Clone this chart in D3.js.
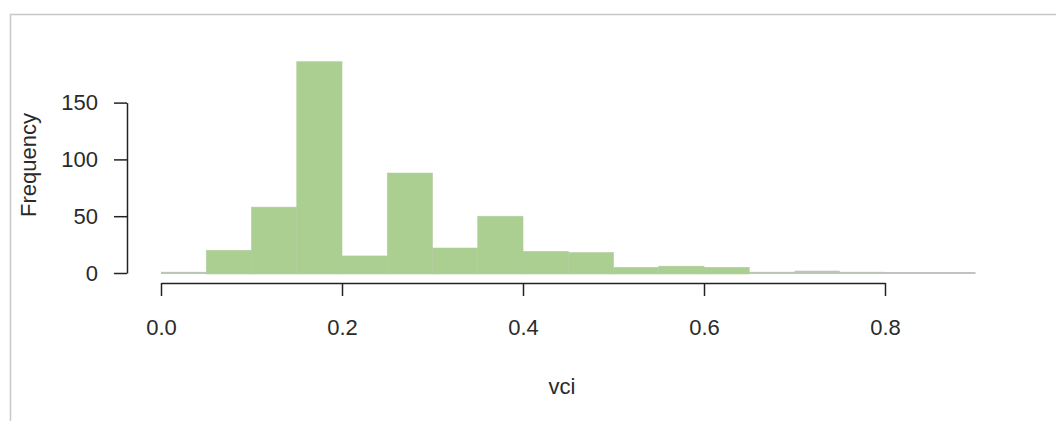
<!DOCTYPE html>
<html>
<head>
<meta charset="utf-8">
<script src="https://cdn.jsdelivr.net/npm/d3@7"></script>
<style>
  body { margin: 0; background: #fff; }
  text { font-family: "Liberation Sans", Arial, sans-serif; fill: #2a2a2a; }
</style>
</head>
<body>
<div id="hist"></div>
<script>
// histogram of vci, bin width 0.05
const binStarts = [0.00, 0.05, 0.10, 0.15, 0.20, 0.25, 0.30, 0.35, 0.40, 0.45,
                   0.50, 0.55, 0.60, 0.65, 0.70, 0.75, 0.80, 0.85];
const counts = [1, 20, 58, 186, 15, 88, 22, 50, 19, 18,
                5, 6, 5, 1, 2, 1, 0, 0];
const binWidth = 0.05;
const xTicks = [0, 0.2, 0.4, 0.6, 0.8];
const yTicks = [0, 50, 100, 150];

const width = 1056, height = 421;

const svg = d3.select("#hist")
  .append("svg")
  .attr("width", width)
  .attr("height", height);

// frame
svg.append("rect")
  .attr("x", 10.5).attr("y", 14.5)
  .attr("width", width).attr("height", height)
  .attr("fill", "none")
  .attr("stroke", "#c8c8c8")
  .attr("stroke-width", 1.5);

const x = d3.scaleLinear().domain([0, 0.8]).range([161, 885]);
const y = d3.scaleLinear().domain([0, 150]).range([273, 102.6]);

const data = binStarts.map((b, i) => ({ x0: b, x1: b + binWidth, n: counts[i] }));

// empty bins still show the gray bottom edge
svg.append("line")
  .attr("x1", x(0)).attr("x2", x(0.9))
  .attr("y1", y(0)).attr("y2", y(0))
  .attr("stroke", "#c2c2c2")
  .attr("stroke-width", 2);

// bars
svg.append("g")
  .selectAll("rect")
  .data(data.filter(d => d.n > 2))
  .enter()
  .append("rect")
  .attr("x", d => x(d.x0))
  .attr("y", d => y(d.n))
  .attr("width", d => x(d.x1) - x(d.x0))
  .attr("height", d => y(0) - y(d.n) + 1)
  .attr("fill", "#aacf90")
  .attr("stroke", "#b3ccA2")
  .attr("stroke-width", 0.6);

// small bins look like gray strips
svg.append("g")
  .selectAll("rect")
  .data(data.filter(d => d.n > 0 && d.n <= 2))
  .enter()
  .append("rect")
  .attr("x", d => x(d.x0))
  .attr("y", d => y(d.n))
  .attr("width", d => x(d.x1) - x(d.x0))
  .attr("height", d => y(0) - y(d.n) + 1)
  .attr("fill", "#bcc6b4");

// x axis
const xAxis = svg.append("g")
  .attr("transform", "translate(0,283)")
  .call(d3.axisBottom(x).tickValues(xTicks).tickFormat(d3.format(".1f"))
    .tickSize(13).tickSizeOuter(0).tickPadding(23));

// y axis
const yAxis = svg.append("g")
  .attr("transform", "translate(127,0)")
  .call(d3.axisLeft(y).tickValues(yTicks).tickFormat(d3.format("d"))
    .tickSize(13).tickSizeOuter(0).tickPadding(16));

[xAxis, yAxis].forEach(g => {
  g.select(".domain").attr("stroke", "#222").attr("stroke-width", 1.5);
  g.selectAll(".tick line").attr("stroke", "#222").attr("stroke-width", 1.5);
  g.selectAll("text").attr("font-size", 22).attr("font-family", "Liberation Sans, Arial, sans-serif").attr("fill", "#2a2a2a");
});

// axis titles
svg.append("text")
  .attr("x", 562).attr("y", 394)
  .attr("text-anchor", "middle")
  .attr("font-size", 22)
  .text("vci");

svg.append("text")
  .attr("transform", "translate(36,165) rotate(-90)")
  .attr("text-anchor", "middle")
  .attr("font-size", 22)
  .text("Frequency");
</script>
</body>
</html>
